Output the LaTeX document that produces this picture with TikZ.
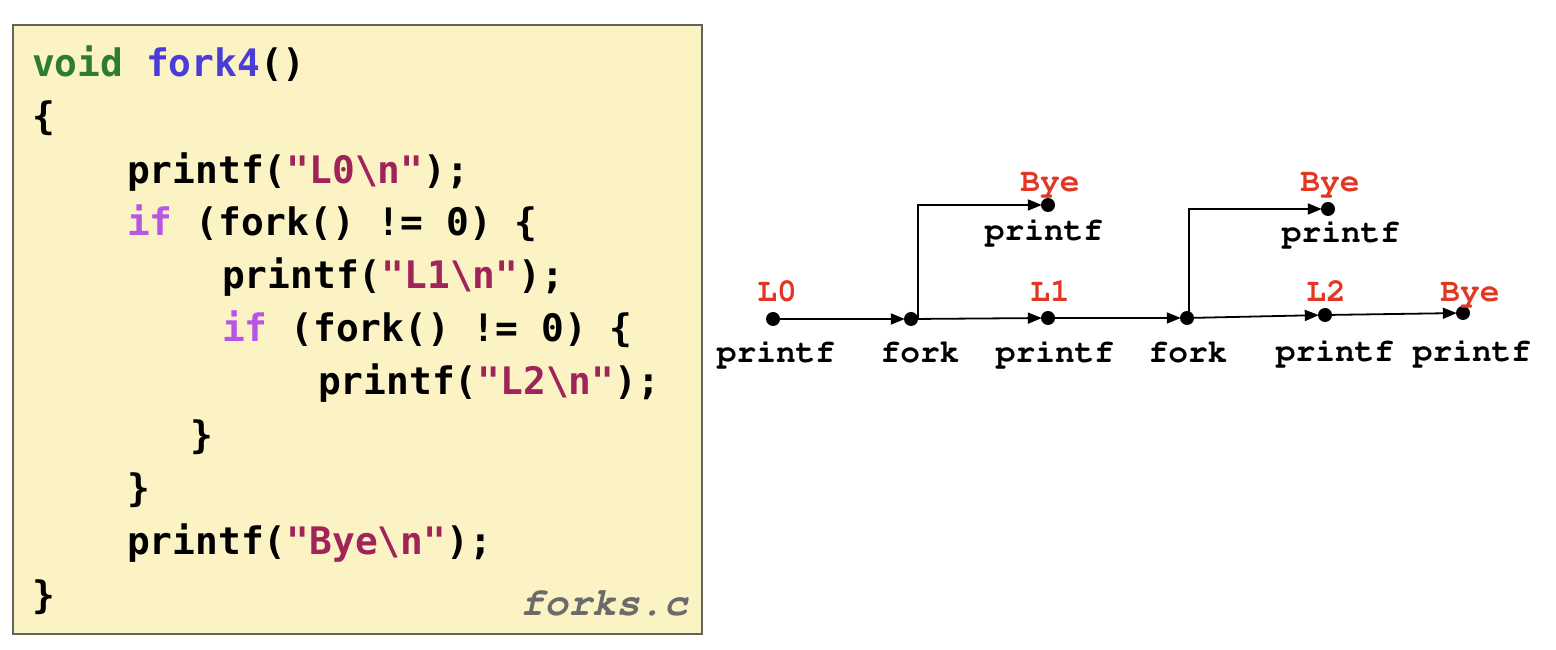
\documentclass[tikz,border=0pt]{standalone}
\usepackage[T1]{fontenc}
\usepackage{fontspec}
\usetikzlibrary{arrows.meta}
\newfontfamily\codefont{DejaVu Sans Mono}
\newcommand{\graphfont}{\fontencoding{T1}\fontfamily{pcr}\fontseries{b}\selectfont}
\definecolor{boxfill}{RGB}{251,243,196}
\definecolor{boxline}{RGB}{100,100,92}
\definecolor{kwtype}{RGB}{45,125,45}
\definecolor{kwfunc}{RGB}{75,60,215}
\definecolor{kwctrl}{RGB}{185,85,230}
\definecolor{strcol}{RGB}{160,35,90}
\definecolor{lblred}{RGB}{225,55,35}
\newcommand{\str}[1]{\textcolor{strcol}{#1}}
\begin{document}
\begin{tikzpicture}[code/.style={anchor=base west,inner sep=0pt,font=\codefont\bfseries\fontsize{38}{46}\selectfont},
  txt/.style={anchor=base,inner sep=0pt,font=\graphfont\fontsize{33}{40}\selectfont},
  lbl/.style={txt,text=lblred},
  dot/.style={circle,fill=black,inner sep=0pt,minimum size=14bp},
  flow/.style={line width=1.8bp,-{Triangle[length=14bp,width=11bp]},shorten >=-1bp}]
  \useasboundingbox (0bp,0bp) rectangle (1556bp,650bp);
  % code box
  \draw [boxline,line width=2.5bp,fill=boxfill] (13bp,16bp) rectangle (702bp,625bp);
  \node (c1) at (32bp,573bp) [code] {\textcolor{kwtype}{void} \textcolor{kwfunc}{fork4}()};
  \node (c2) at (32bp,520bp) [code] {\{};
  \node (c3) at (127bp,466bp) [code] {printf(\str{"L0\textbackslash n"});};
  \node (c4) at (127bp,414bp) [code] {\textcolor{kwctrl}{if} (fork() != 0) \{};
  \node (c5) at (222bp,361bp) [code] {printf(\str{"L1\textbackslash n"});};
  \node (c6) at (222bp,308bp) [code] {\textcolor{kwctrl}{if} (fork() != 0) \{};
  \node (c7) at (318bp,255bp) [code] {printf(\str{"L2\textbackslash n"});};
  \node (c8) at (190bp,201bp) [code] {\}};
  \node (c9) at (127bp,148bp) [code] {\}};
  \node (c10) at (127bp,95bp) [code] {printf(\str{"Bye\textbackslash n"});};
  \node (c11) at (32bp,41bp) [code] {\}};
  \node (file) at (688bp,35bp) [anchor=base east,inner sep=0pt,text=black!58,font=\graphfont\fontshape{sl}\fontsize{40}{48}\selectfont] {forks.c};
  % process graph
  \node (L0) at (773bp,331bp) [dot] {};
  \node (F1) at (911bp,331bp) [dot] {};
  \node (L1) at (1048bp,332bp) [dot] {};
  \node (F2) at (1187bp,332bp) [dot] {};
  \node (L2) at (1325bp,335bp) [dot] {};
  \node (B3) at (1463bp,337bp) [dot] {};
  \node (B1) at (1048bp,445bp) [dot] {};
  \node (B2) at (1328bp,441bp) [dot] {};
  \node (tL0) at (777bp,348bp) [lbl] {L0};
  \node (tL1) at (1050bp,348bp) [lbl] {L1};
  \node (tL2) at (1326bp,348bp) [lbl] {L2};
  \node (tB3) at (1470bp,348bp) [lbl] {Bye};
  \node (tB1) at (1050bp,458bp) [lbl] {Bye};
  \node (tB2) at (1330bp,458bp) [lbl] {Bye};
  \node (pL0) at (776bp,287bp) [txt] {printf};
  \node (pF1) at (920bp,287bp) [txt] {fork};
  \node (pL1) at (1055bp,287bp) [txt] {printf};
  \node (pF2) at (1188bp,287bp) [txt] {fork};
  \node (pL2) at (1335bp,288bp) [txt] {printf};
  \node (pB3) at (1472bp,288bp) [txt] {printf};
  \node (pB1) at (1044bp,409bp) [txt] {printf};
  \node (pB2) at (1341bp,407bp) [txt] {printf};
  \draw [flow] (L0) -- (F1);
  \draw [flow] (F1) -- (L1);
  \draw [flow] ([xshift=7bp]F1.center) |- (B1);
  \draw [flow] (L1) -- (F2);
  \draw [flow] (F2) -- (L2);
  \draw [flow] ([xshift=2bp]F2.center) |- (B2);
  \draw [flow] (L2) -- (B3);
\end{tikzpicture}
\end{document}
